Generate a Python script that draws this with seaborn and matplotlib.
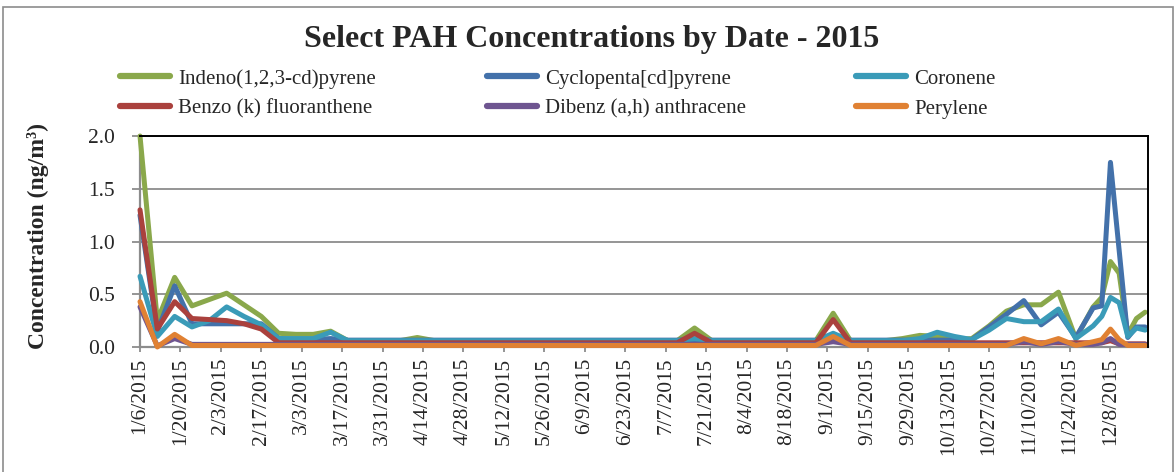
import pandas as pd
import seaborn as sns
import matplotlib.pyplot as plt
from matplotlib.patches import Rectangle
from matplotlib.lines import Line2D

# sample dates (6-day schedule, every 3 days in December)
dates = ["1/6/2015", "1/12/2015", "1/18/2015", "1/24/2015", "1/30/2015", "2/5/2015", "2/11/2015", "2/17/2015", "2/23/2015", "3/1/2015",
         "3/7/2015", "3/13/2015", "3/19/2015", "3/25/2015", "3/31/2015", "4/6/2015", "4/12/2015", "4/18/2015", "4/24/2015", "4/30/2015",
         "5/6/2015", "5/12/2015", "5/18/2015", "5/24/2015", "5/30/2015", "6/5/2015", "6/11/2015", "6/17/2015", "6/23/2015", "6/29/2015",
         "7/5/2015", "7/11/2015", "7/17/2015", "7/23/2015", "7/29/2015", "8/4/2015", "8/10/2015", "8/16/2015", "8/22/2015", "8/28/2015",
         "9/3/2015", "9/9/2015", "9/15/2015", "9/21/2015", "9/27/2015", "10/3/2015", "10/9/2015", "10/15/2015", "10/21/2015", "10/27/2015",
         "11/2/2015", "11/8/2015", "11/14/2015", "11/20/2015", "11/26/2015", "12/2/2015", "12/5/2015", "12/8/2015", "12/11/2015", "12/14/2015",
         "12/17/2015", "12/20/2015"]

indeno = [2.00, 0.25, 0.66, 0.39, 0.45, 0.51, 0.40, 0.29, 0.13, 0.12,
          0.12, 0.15, 0.06, 0.06, 0.06, 0.06, 0.09, 0.06, 0.06, 0.06,
          0.06, 0.06, 0.06, 0.06, 0.06, 0.06, 0.06, 0.06, 0.06, 0.06,
          0.06, 0.06, 0.18, 0.06, 0.06, 0.06, 0.06, 0.06, 0.06, 0.06,
          0.32, 0.06, 0.06, 0.06, 0.08, 0.11, 0.10, 0.07, 0.08, 0.20,
          0.34, 0.40, 0.40, 0.52, 0.08, 0.38, 0.47, 0.81, 0.70, 0.12,
          0.27, 0.33]
cyclopenta = [1.25, 0.15, 0.58, 0.22, 0.22, 0.22, 0.22, 0.22, 0.08, 0.07,
              0.07, 0.08, 0.065, 0.065, 0.065, 0.065, 0.065, 0.065, 0.065, 0.065,
              0.065, 0.065, 0.065, 0.065, 0.065, 0.065, 0.065, 0.065, 0.065, 0.065,
              0.065, 0.065, 0.07, 0.065, 0.065, 0.065, 0.065, 0.065, 0.065, 0.065,
              0.07, 0.065, 0.065, 0.065, 0.065, 0.065, 0.065, 0.065, 0.07, 0.19,
              0.31, 0.44, 0.21, 0.33, 0.09, 0.37, 0.39, 1.75, 0.92, 0.09,
              0.19, 0.19]
coronene = [0.67, 0.10, 0.29, 0.19, 0.25, 0.38, 0.29, 0.21, 0.08, 0.08,
            0.08, 0.14, 0.06, 0.06, 0.06, 0.06, 0.06, 0.06, 0.06, 0.06,
            0.06, 0.06, 0.06, 0.06, 0.06, 0.06, 0.06, 0.06, 0.06, 0.06,
            0.06, 0.06, 0.08, 0.06, 0.06, 0.06, 0.06, 0.06, 0.06, 0.06,
            0.13, 0.06, 0.06, 0.06, 0.06, 0.08, 0.14, 0.10, 0.07, 0.16,
            0.27, 0.24, 0.24, 0.36, 0.08, 0.20, 0.29, 0.47, 0.42, 0.10,
            0.18, 0.16]
benzo_k = [1.30, 0.17, 0.43, 0.27, 0.26, 0.25, 0.22, 0.17, 0.04, 0.04,
           0.04, 0.04, 0.04, 0.04, 0.04, 0.04, 0.04, 0.04, 0.04, 0.04,
           0.04, 0.04, 0.04, 0.04, 0.04, 0.04, 0.04, 0.04, 0.04, 0.04,
           0.04, 0.04, 0.13, 0.04, 0.04, 0.04, 0.04, 0.04, 0.04, 0.04,
           0.26, 0.04, 0.04, 0.04, 0.04, 0.04, 0.04, 0.04, 0.04, 0.04,
           0.04, 0.04, 0.04, 0.04, 0.04, 0.04, 0.04, 0.06, 0.03, 0.03,
           0.03, 0.03]
dibenz = [0.38, 0.01, 0.08, 0.025, 0.025, 0.025, 0.025, 0.025, 0.025, 0.025,
          0.025, 0.025, 0.025, 0.025, 0.025, 0.025, 0.025, 0.025, 0.025, 0.025,
          0.025, 0.025, 0.025, 0.025, 0.025, 0.025, 0.025, 0.025, 0.025, 0.025,
          0.025, 0.025, 0.025, 0.025, 0.025, 0.025, 0.025, 0.025, 0.025, 0.025,
          0.05, 0.025, 0.025, 0.025, 0.025, 0.025, 0.025, 0.025, 0.025, 0.025,
          0.025, 0.05, 0.025, 0.05, 0.025, 0.025, 0.04, 0.08, 0.025, 0.025,
          0.025, 0.025]
perylene = [0.43, 0.00, 0.12, 0.015, 0.015, 0.015, 0.015, 0.015, 0.015, 0.015,
            0.015, 0.015, 0.015, 0.015, 0.015, 0.015, 0.015, 0.015, 0.015, 0.015,
            0.015, 0.015, 0.015, 0.015, 0.015, 0.015, 0.015, 0.015, 0.015, 0.015,
            0.015, 0.015, 0.015, 0.015, 0.015, 0.015, 0.015, 0.015, 0.015, 0.015,
            0.10, 0.015, 0.015, 0.015, 0.015, 0.015, 0.015, 0.015, 0.015, 0.015,
            0.015, 0.08, 0.03, 0.08, 0.015, 0.05, 0.07, 0.17, 0.07, 0.015,
            0.015, 0.015]

names = ["Indeno(1,2,3-cd)pyrene", "Cyclopenta[cd]pyrene", "Coronene",
         "Benzo (k) fluoranthene", "Dibenz (a,h) anthracene", "Perylene"]
colors = ["#8AA84B", "#4371AA", "#3A9BB8", "#AA413D", "#6E5590", "#E08133"]

tick_labels = ["1/6/2015", "1/20/2015", "2/3/2015", "2/17/2015", "3/3/2015", "3/17/2015", "3/31/2015",
               "4/14/2015", "4/28/2015", "5/12/2015", "5/26/2015", "6/9/2015", "6/23/2015", "7/7/2015",
               "7/21/2015", "8/4/2015", "8/18/2015", "9/1/2015", "9/15/2015", "9/29/2015", "10/13/2015",
               "10/27/2015", "11/10/2015", "11/24/2015", "12/8/2015"]

# long table for seaborn
d = pd.to_datetime(dates, format="%m/%d/%Y")
frames = []
for n, vals in zip(names, [indeno, cyclopenta, coronene, benzo_k, dibenz, perylene]):
    frames.append(pd.DataFrame({"date": d, "conc": vals, "compound": n}))
df = pd.concat(frames, ignore_index=True)

sns.set_style("white")
plt.rcParams['font.family'] = ['Liberation Serif', 'DejaVu Serif']

W, H = 1176, 472
fig = plt.figure(figsize=(W / 100, H / 100), dpi=100)
ax = fig.add_axes([140 / W, 1 - 347 / H, (1148 - 140) / W, (347 - 136) / H])

sns.lineplot(data=df, x="date", y="conc", hue="compound", hue_order=names,
             palette=dict(zip(names, colors)), linewidth=3.6, legend=False,
             errorbar=None, ax=ax)
for ln in ax.lines:
    ln.set_solid_joinstyle("round")
    ln.set_clip_on(False)

ax.set_ylim(0, 2.0)
ax.set_yticks([0, 0.5, 1.0, 1.5, 2.0])
ax.set_yticklabels(["0.0", "0.5", "1.0", "1.5", "2.0"])
ax.set_xlim(pd.Timestamp("2015-01-06"), pd.Timestamp("2015-12-21"))
ax.set_xticks(pd.to_datetime(tick_labels, format="%m/%d/%Y"))
ax.set_xticklabels(tick_labels, rotation=90)
ax.set_xlabel("")
ax.set_ylabel("")
ax.grid(axis="y", color="#8c8c8c", linewidth=1.3)
ax.grid(axis="x", visible=False)
ax.set_axisbelow(True)

for s in ["top", "right"]:
    ax.spines[s].set_color("black")
    ax.spines[s].set_linewidth(1.4)
for s in ["left", "bottom"]:
    ax.spines[s].set_color("#8c8c8c")
    ax.spines[s].set_linewidth(1.6)
    ax.spines[s].set_zorder(0.5)

ax.tick_params(axis="y", which="major", direction="out", length=6, width=1.3,
               color="#8c8c8c", left=True, pad=12, labelsize=15.5)
ax.tick_params(axis="x", which="major", direction="out", length=3.5, width=1.3,
               color="#8c8c8c", bottom=True, pad=4, labelsize=15.5)

fig.text(592 / W, 1 - 39 / H, "Select PAH Concentrations by Date - 2015",
         ha="center", va="center", fontsize=23, fontweight="bold")
fig.text(38 / W, 1 - 236 / H, "Concentration (ng/m³)", rotation=90,
         ha="center", va="center", fontsize=17, fontweight="bold")

# legend: row 1 = first three series, row 2 = last three
order = [0, 3, 1, 4, 2, 5]
handles = [Line2D([], [], color=colors[i], linewidth=4.5, solid_capstyle="round") for i in order]
fig.legend(handles, [names[i] for i in order], ncol=3, loc="upper left",
           bbox_to_anchor=(120 / W, 1 - 69 / H), frameon=False, fontsize=15,
           handlelength=2.4, handletextpad=0.4, columnspacing=5.3,
           labelspacing=0.5, borderpad=0, borderaxespad=0)

fig.patches.append(Rectangle((3 / W, -0.02), 1170 / W, 1.02 - 7 / H, transform=fig.transFigure,
                             fill=False, edgecolor="#8c8c8c", linewidth=1.2))

fig.savefig("out.png", dpi=100)
